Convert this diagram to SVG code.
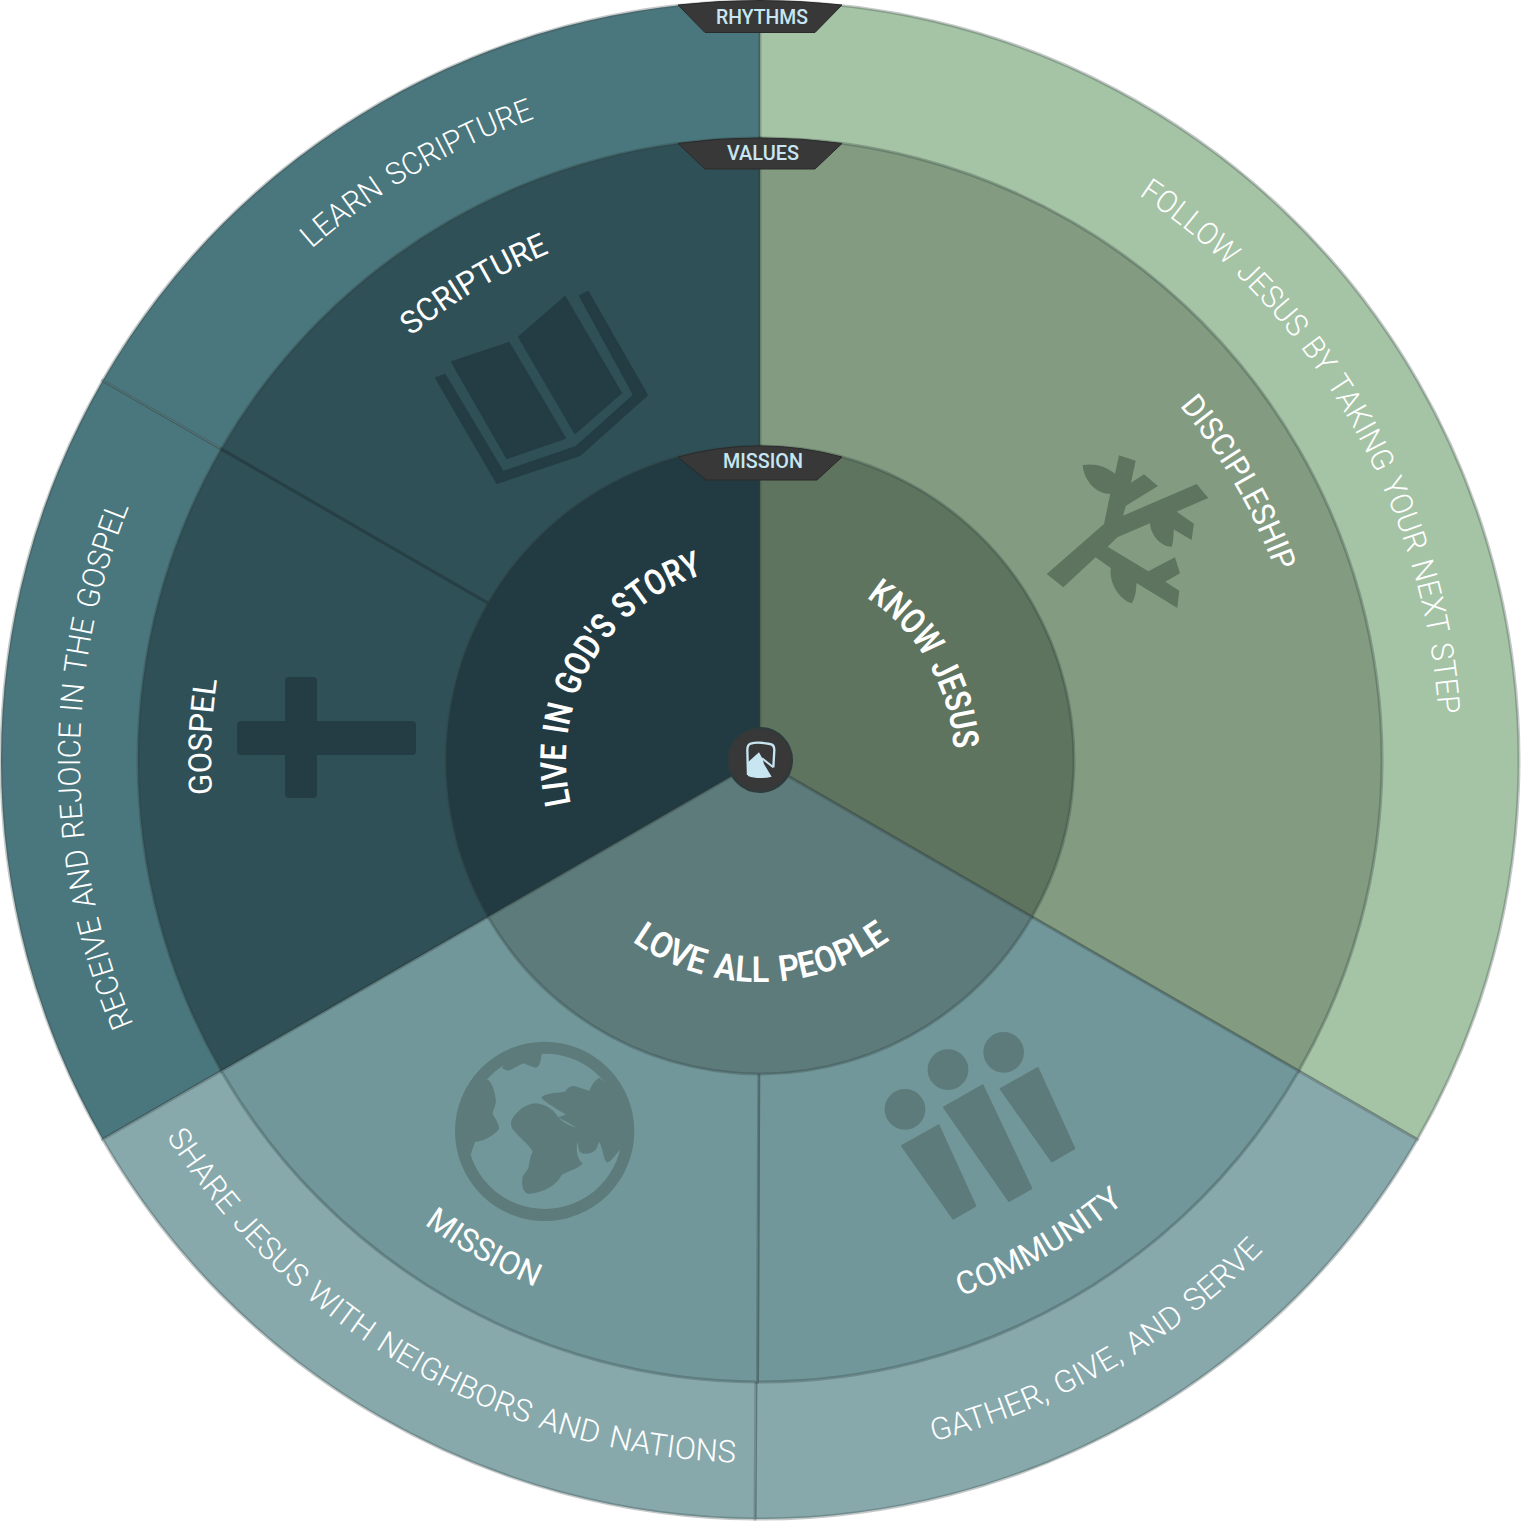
<svg xmlns="http://www.w3.org/2000/svg" xmlns:xlink="http://www.w3.org/1999/xlink" width="1521" height="1521" viewBox="0 0 1521 1521">
<style>
text{font-family:"Roboto","Liberation Sans",sans-serif;fill:#fff}
.o{font-size:31px;font-weight:300;word-spacing:3px}
.m{font-size:32px;font-weight:400}
.i{font-size:36px;font-weight:600;word-spacing:3px}
.tab{fill:#383838;stroke:#2a2a2a;stroke-width:1}
.tl{font-size:20px;font-weight:500;fill:#C7E6F2;text-anchor:middle}
.edge{stroke:#2f3f3f;stroke-opacity:.3;stroke-width:3}
.edgeo{stroke:#3a4a4a;stroke-opacity:.3;stroke-width:3}
.seam{stroke:#243D44;stroke-width:3;fill:none}
textPath{text-anchor:middle}
</style>
<defs>
<path id="ot" d="M171.100 420A680 680 0 0 1 1348.900 420"/>
<path id="ob" d="M151.200 1111.500A703 703 0 0 0 1368.800 1111.500"/>
<path id="mt" d="M284.600 485.500A549 549 0 0 1 1235.400 485.500"/>
<path id="mb" d="M263.800 1046.500A573 573 0 0 0 1256.200 1046.500"/>
<path id="it" d="M592 663A194 194 0 0 1 928 663"/>
<path id="ib" d="M567.700 871A222 222 0 0 0 952.300 871"/>
</defs>
<g id="rhythms-ring">
<path class="edgeo" fill="#4A777D" d="M760 760L102.700 1139.500A759 759 0 0 1 102.700 380.500Z"/>
<path class="edgeo" fill="#4A777D" d="M760 760L102.700 380.500A759 759 0 0 1 760 1Z"/>
<path class="edgeo" fill="#A5C3A5" d="M760 760L760 1A759 759 0 0 1 1417.300 1139.500Z"/>
<path class="edgeo" fill="#87A9AC" d="M760 760L1417.300 1139.500A759 759 0 0 1 755 1519Z"/>
<path class="edgeo" fill="#87A9AC" d="M760 760L755 1519A759 759 0 0 1 102.700 1139.500Z"/>
</g>
<g id="values-ring">
<path class="edge" fill="#305057" d="M760 760L221.300 1071A622 622 0 0 1 221.300 449Z"/>
<path class="edge" fill="#305057" d="M760 760L221.300 449A622 622 0 0 1 760 138Z"/>
<path class="edge" fill="#839C81" d="M760 760L760 138A622 622 0 0 1 1298.700 1071Z"/>
<path class="edge" fill="#71979A" d="M760 760L1298.700 1071A622 622 0 0 1 757.500 1382Z"/>
<path class="edge" fill="#71979A" d="M760 760L757.500 1382A622 622 0 0 1 221.300 1071Z"/>
<path class="seam" stroke-opacity=".8" d="M221.300 449L488 603"/>
</g>
<g id="mission-ring">
<path class="edge" fill="#223A41" d="M760 760L488.100 917A314 314 0 0 1 760 446Z"/>
<path class="edge" fill="#5F745F" d="M760 760L760 446A314 314 0 0 1 1031.900 917Z"/>
<path class="edge" fill="#5E7B7B" d="M760 760L1031.900 917A314 314 0 0 1 488.100 917Z"/>
</g>
<g id="icon-book" fill="#243D44" stroke="#243D44" stroke-width="2" stroke-linejoin="round">
<path d="M452 362L509 343L565 438L507 458Z"/>
<path d="M519 337L565 297L621 393L575 433Z"/>
<path d="M436 378L445 375L503 472L576 447L634 395L580 296L588 292L647 395L580 455L497 483Z"/>
</g>
<g id="icon-branch" transform="translate(1030 440) scale(.3333)" fill="#5F745F">
<path d="M50 402L222 252L240 165L255 102L267 46L317 62L303 128L342 103L384 138L288 197L279 227L500 132L535 174L440 215L492 251L485 300L430 268L360 250L262 292L233 320L355 394L435 352L450 400L406 425L448 452L442 504L318 428L243 385L197 352L100 442Z"/>
<path d="M258 104C225 75 190 70 158 75C160 115 195 165 245 162Z"/>
<path d="M360 248C360 280 390 320 425 320C432 300 430 285 432 262Z"/>
<path d="M243 382C235 430 270 480 305 490C318 470 318 450 320 425Z"/>
</g>
<g id="icon-cross" fill="#243D44">
<rect x="285" y="677" width="32" height="121" rx="4"/>
<rect x="237" y="721" width="179" height="34" rx="4"/>
</g>
<g id="icon-globe" transform="translate(440 1030) scale(.3333)" fill="#5E7B7B">
<circle cx="314" cy="304" r="251" fill="none" stroke="#5E7B7B" stroke-width="36"/>
<path d="M145 150C160 165 165 190 168 215C165 235 155 245 160 255C175 280 180 295 175 300C155 320 130 335 105 335C100 350 95 360 93 375L60 300L100 140Z"/>
<path d="M185 112C195 122 205 125 215 118L250 100L285 113C300 112 302 95 305 72L250 55Z"/>
<path d="M305 200C320 188 360 188 375 185C385 170 395 165 410 170L448 182C455 165 465 150 478 143L535 190L565 300L538 362C525 375 515 395 500 397C490 385 490 360 478 335C472 345 472 355 465 362C450 372 430 375 420 365C415 355 415 345 412 335C408 360 410 385 428 400C420 415 380 425 365 435C350 465 320 485 265 492C245 485 245 460 248 440C255 425 265 420 266 410C270 390 272 375 278 365C270 345 240 325 225 305C215 295 210 285 215 270C230 245 250 225 285 220C320 222 340 240 355 262C370 280 395 290 408 292C412 275 395 265 380 255C355 240 320 220 305 205Z"/>
<path d="M355 262L408 292L412 335L420 365L478 335L440 230Z"/>
</g>
<g id="icon-community" transform="translate(870 1020) scale(.3333)" fill="#5E7B7B" stroke="#5E7B7B" stroke-width="6" stroke-linejoin="round">
<circle cx="105" cy="268" r="58"/><circle cx="234" cy="149" r="58"/><circle cx="401" cy="97" r="58"/>
<path d="M96 378L206 316L316 558L250 596Z"/>
<path d="M222 262L338 196L484 505L417 543Z"/>
<path d="M392 207L503 144L613 385L546 424Z"/>
</g>
<g id="labels-rhythms" class="o">
<text transform="rotate(-30.300 760 760)"><textPath xlink:href="#ot" href="#ot" startOffset="50%" textLength="260" lengthAdjust="spacingAndGlyphs">LEARN SCRIPTURE</textPath></text>
<text transform="rotate(60 760 760)"><textPath xlink:href="#ot" href="#ot" startOffset="50%" textLength="621" lengthAdjust="spacingAndGlyphs">FOLLOW JESUS BY TAKING YOUR NEXT STEP</textPath></text>
<text transform="rotate(-90.500 760 760)"><textPath xlink:href="#ot" href="#ot" startOffset="50%" textLength="531" lengthAdjust="spacingAndGlyphs">RECEIVE AND REJOICE IN THE GOSPEL</textPath></text>
<text transform="rotate(29.800 760 760)"><textPath xlink:href="#ob" href="#ob" startOffset="50%" textLength="682" lengthAdjust="spacingAndGlyphs">SHARE JESUS WITH NEIGHBORS AND NATIONS</textPath></text>
<text transform="rotate(-30 760 760)"><textPath xlink:href="#ob" href="#ob" startOffset="50%" textLength="386" lengthAdjust="spacingAndGlyphs">GATHER, GIVE, AND SERVE</textPath></text>
</g>
<g id="labels-values" class="m">
<text transform="rotate(-31 760 760)"><textPath xlink:href="#mt" href="#mt" startOffset="50%" textLength="162" lengthAdjust="spacingAndGlyphs">SCRIPTURE</textPath></text>
<text transform="rotate(59.900 760 760)"><textPath xlink:href="#mt" href="#mt" startOffset="50%" textLength="193" lengthAdjust="spacingAndGlyphs">DISCIPLESHIP</textPath></text>
<text transform="rotate(-87.600 760 760)"><textPath xlink:href="#mt" href="#mt" startOffset="50%" textLength="115" lengthAdjust="spacingAndGlyphs">GOSPEL</textPath></text>
<text transform="rotate(-30 760 760)"><textPath xlink:href="#mb" href="#mb" startOffset="50%" textLength="189" lengthAdjust="spacingAndGlyphs">COMMUNITY</textPath></text>
<text transform="rotate(29.500 760 760)"><textPath xlink:href="#mb" href="#mb" startOffset="50%" textLength="128" lengthAdjust="spacingAndGlyphs">MISSION</textPath></text>
</g>
<g id="labels-mission" class="i">
<text transform="rotate(-60 760 760)"><textPath xlink:href="#it" href="#it" startOffset="50%" textLength="291" lengthAdjust="spacingAndGlyphs">LIVE IN GOD'S STORY</textPath></text>
<text transform="rotate(60 760 760)"><textPath xlink:href="#it" href="#it" startOffset="50%" textLength="181" lengthAdjust="spacingAndGlyphs">KNOW JESUS</textPath></text>
<text transform="rotate(-.3 760 760)"><textPath xlink:href="#ib" href="#ib" startOffset="50%" textLength="275" lengthAdjust="spacingAndGlyphs">LOVE ALL PEOPLE</textPath></text>
</g>
<g id="tab-rhythms">
<path class="tab" d="M678 5A759 759 0 0 1 842 5L815 32.500L705 32.500Z"/>
<text class="tl" x="762" y="24" textLength="92" lengthAdjust="spacingAndGlyphs">RHYTHMS</text>
</g>
<g id="tab-values">
<path class="tab" d="M678 143.400A622 622 0 0 1 842 143.400L815 169L705 169Z"/>
<text class="tl" x="763" y="160" textLength="72" lengthAdjust="spacingAndGlyphs">VALUES</text>
</g>
<g id="tab-mission">
<path class="tab" d="M678 457A314 314 0 0 1 842 457L817 480L706 480Z"/>
<text class="tl" x="763" y="468" textLength="80" lengthAdjust="spacingAndGlyphs">MISSION</text>
</g>
<g id="logo">
<circle cx="760" cy="760" r="32" fill="#383838" stroke="#2c3c3c" stroke-width="2"/>
<g transform="translate(690 690) scale(.3333)">
<path d="M250 232L253 180C253 170 248 163 240 162C215 157 195 157 182 161C175 163 172 170 172 180L174 255" fill="none" stroke="#C7E6F2" stroke-width="7"/>
<path d="M172 218L207 187L218 207L222 222L245 260C220 266 195 266 174 258Z" fill="#C7E6F2"/>
<path d="M216 205L250 232" fill="none" stroke="#C7E6F2" stroke-width="6"/>
</g>
</g>
</svg>
